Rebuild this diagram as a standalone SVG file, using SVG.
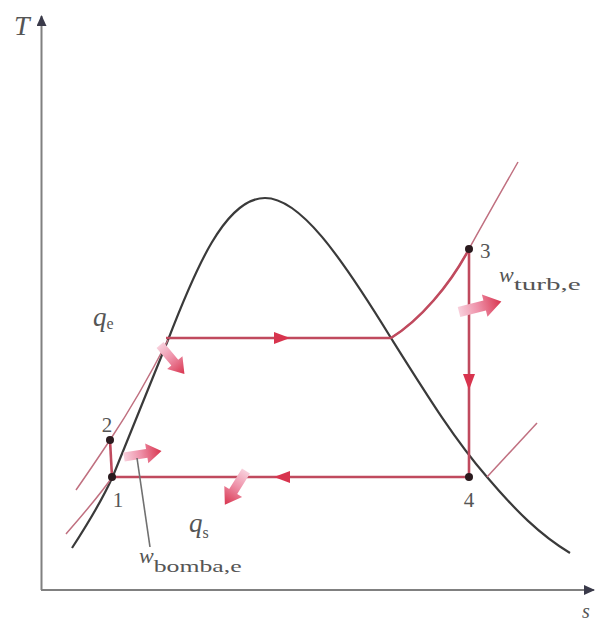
<svg xmlns="http://www.w3.org/2000/svg" width="597" height="623" viewBox="0 0 597 623">
<style>
.axis{stroke:#808080;stroke-width:2;fill:none}
.dome{stroke:#3a3a3a;stroke-width:2.2;fill:none}
.iso{stroke:#c07080;stroke-width:1.5;fill:none}
.cyc{stroke:#c04a5e;stroke-width:2.6;fill:none}
.lbl{font-family:"Liberation Serif","Times New Roman",serif;fill:#555}
.it{font-style:italic}
.pt{fill:#2a1a1e}
</style>
<defs>
<marker id="axhead" markerWidth="12" markerHeight="12" refX="10" refY="5" orient="auto" markerUnits="userSpaceOnUse">
<path d="M0,0 L11,5 L0,10 Z" fill="#3a3a4a"/>
</marker>
<linearGradient id="grad" x1="0" y1="0" x2="1" y2="0">
<stop offset="0" stop-color="#f8d0dc"/>
<stop offset="0.45" stop-color="#ee90a8"/>
<stop offset="1" stop-color="#d8344e"/>
</linearGradient>
<path id="blk" d="M0,-4.5 L23,-4.5 L23,-10 L38,0 L23,10 L23,4.5 L0,4.5 Z" fill="url(#grad)"/>
<path id="tri" d="M-8,-6 L8,0 L-8,6 Z" fill="#d8344e"/>
</defs>

<g id="axes">
<line class="axis" x1="41.5" y1="590" x2="41.5" y2="16" marker-end="url(#axhead)"/>
<line class="axis" x1="41" y1="590" x2="594" y2="590" marker-end="url(#axhead)"/>
<text class="lbl it" x="14" y="35" font-size="28">T</text>
<text class="lbl it" x="582" y="618" font-size="20">s</text>
</g>

<g id="dome">
<path class="dome" d="M72,548 Q100,505 113,476 L168,340 C195,270 225,198 265,198 C300,198 340,255 391,338 C430,400 455,440 487,477 C515,510 540,535 570,553"/>
</g>

<g id="isobars">
<path class="iso" d="M76,490 C90,470 100,455 110,440 C130,410 150,375 168,340"/>
<path class="iso" d="M66,534 C85,512 100,495 113,476"/>
<path class="iso" d="M391,338 C420,320 450,285 469,249 C485,220 505,185 518,162"/>
<line class="iso" x1="487" y1="477" x2="537" y2="423"/>
</g>

<g id="connectors">
<line class="cyc" x1="112" y1="477" x2="110" y2="440"/>
<line class="cyc" x1="166" y1="338" x2="391" y2="338"/>
<path class="cyc" d="M391,338 C420,320 450,285 469,249"/>
<line class="cyc" x1="469" y1="249" x2="469" y2="477"/>
<line class="cyc" x1="469" y1="477" x2="112" y2="477"/>
<use href="#tri" transform="translate(282,338)"/>
<use href="#tri" transform="translate(469,382) rotate(90)"/>
<use href="#tri" transform="translate(282,477) rotate(180)"/>
</g>

<g id="p1"><circle class="pt" cx="112" cy="477" r="4"/><text class="lbl" x="118" y="507" font-size="21" text-anchor="middle">1</text></g>
<g id="p2"><circle class="pt" cx="110" cy="440" r="4"/><text class="lbl" x="107" y="432" font-size="21" text-anchor="middle">2</text></g>
<g id="p3"><circle class="pt" cx="469" cy="249" r="4"/><text class="lbl" x="480" y="258" font-size="21">3</text></g>
<g id="p4"><circle class="pt" cx="469" cy="477" r="4"/><text class="lbl" x="469" y="507" font-size="21" text-anchor="middle">4</text></g>

<g id="qe">
<use href="#blk" transform="translate(160,345) rotate(50)"/>
<text class="lbl" x="93" y="326" font-size="27"><tspan class="it">q</tspan><tspan font-size="16" dy="3">e</tspan></text>
</g>

<g id="wbomba">
<use href="#blk" transform="translate(124,457) rotate(-9)"/>
<line x1="137" y1="458" x2="150" y2="547" stroke="#707070" stroke-width="1.6"/>
<text class="lbl" x="139" y="563" font-size="22"><tspan class="it">w</tspan><tspan font-size="17" dy="9" textLength="88" lengthAdjust="spacingAndGlyphs">bomba,e</tspan></text>
</g>

<g id="qs">
<use href="#blk" transform="translate(246,471) rotate(122) scale(1.05)"/>
<text class="lbl" x="189" y="532" font-size="27"><tspan class="it">q</tspan><tspan font-size="16" dy="6">s</tspan></text>
</g>

<g id="wturb">
<use href="#blk" transform="translate(459,312) rotate(-14) scale(1.15)"/>
<text class="lbl" x="499" y="282" font-size="22"><tspan class="it">w</tspan><tspan font-size="17" dy="8" textLength="67" lengthAdjust="spacingAndGlyphs">turb,e</tspan></text>
</g>
</svg>
